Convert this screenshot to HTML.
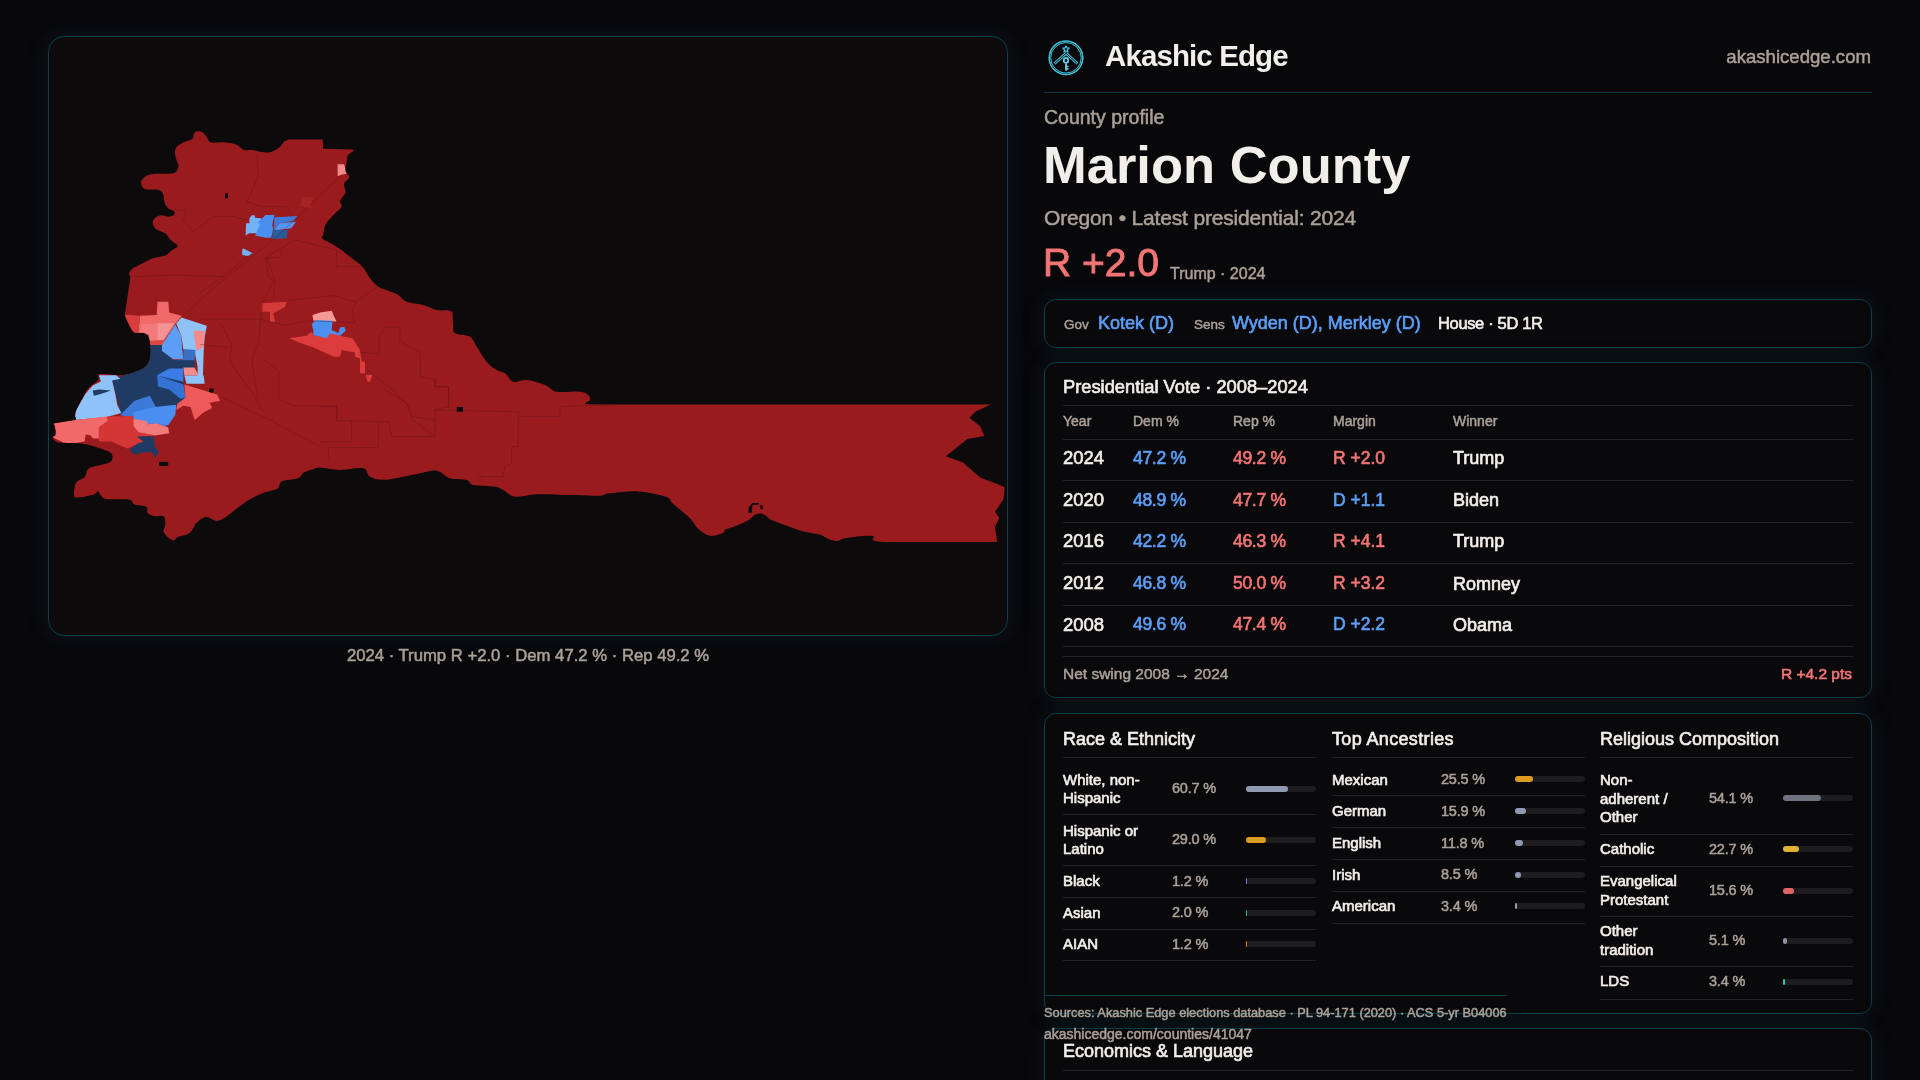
<!DOCTYPE html>
<html><head><meta charset="utf-8"><title>Marion County</title>
<style>
html,body{margin:0;padding:0;}
body{width:1920px;height:1080px;overflow:hidden;background:#08070a;position:relative;font-family:"Liberation Sans", sans-serif;}
.t{position:absolute;white-space:nowrap;will-change:transform;}
.r{position:absolute;}
.card{position:absolute;box-sizing:border-box;border:1px solid #0a3e4a;background:#0b0a0c;box-shadow:0 0 22px 2px rgba(25,120,135,0.13);}
.map{position:absolute;left:0;top:0;}
.logo{position:absolute;}
</style></head><body>
<div class="card" style="left:48px;top:36px;width:960px;height:600px;border-radius:16px;background:#0c0a0b;"></div>
<svg class="map" width="1020" height="700" viewBox="0 0 1020 700"><defs><clipPath id="cty"><path d="M197.2 131.3C198.7 131.1 201.2 131.6 202.8 132.6C204.4 133.6 205.5 135.9 206.9 137.5C208.3 139.1 208.1 141.6 211.1 142.4C214.1 143.2 220.8 142.1 225.0 142.4C229.2 142.7 232.9 143.1 236.1 144.4C239.3 145.7 241.7 149.1 244.3 150.0C247.0 150.9 248.1 149.6 252.0 150.0C255.9 150.4 263.1 153.0 267.6 152.6C272.2 152.2 275.7 149.6 279.3 147.4C282.9 145.2 281.8 140.7 289.0 139.4L322.7 139.4L323.1 148.7L352.5 149.4C356.6 150.5 349.0 153.1 348.0 155.2C347.0 157.2 347.1 159.1 346.7 161.7C346.3 164.3 345.0 168.2 345.4 170.8C345.8 173.4 349.5 175.2 349.3 177.3C349.1 179.5 344.8 181.1 344.1 183.7C343.5 186.3 346.0 190.0 345.4 192.8C344.8 195.6 340.8 198.2 340.2 200.6C339.6 203.0 342.4 204.9 341.5 207.1C340.6 209.3 337.6 210.8 335.0 213.6C332.4 216.4 327.8 220.4 325.9 223.9C323.9 227.4 323.9 231.9 323.3 234.3C322.7 236.7 320.7 236.7 322.0 238.2C323.3 239.7 327.9 241.4 331.1 243.4C334.4 245.4 338.5 247.8 341.5 249.9C344.5 252.1 346.3 253.9 349.3 256.3C352.3 258.7 357.0 261.8 359.6 264.1C362.2 266.4 363.3 267.6 365.0 270.0C366.7 272.4 367.8 275.5 370.0 278.3C372.2 281.1 374.4 284.3 378.3 286.7C382.2 289.1 390.0 291.1 393.3 292.5C396.6 293.9 396.1 293.5 398.3 295.0C400.5 296.5 402.5 300.0 406.7 301.7C410.9 303.4 418.3 303.6 423.3 305.0C428.3 306.4 431.8 308.8 436.7 310.0C441.6 311.2 449.7 308.9 452.5 312.5L453.3 331.7C456.2 335.7 466.1 334.2 470.0 336.7C473.9 339.2 473.9 342.5 476.7 346.7C479.5 350.9 483.4 357.8 486.7 361.7C490.0 365.6 493.6 368.1 496.7 370.0C499.8 371.9 502.2 371.4 505.0 373.3C507.8 375.2 509.7 380.6 513.3 381.7C516.9 382.8 521.4 379.4 526.7 380.0C532.0 380.6 540.0 383.1 545.0 385.0C550.0 386.9 550.9 390.6 556.7 391.7C562.5 392.8 574.7 391.1 580.0 391.7C585.3 392.2 586.6 393.6 588.3 395.0C590.0 396.4 590.3 398.5 590.0 400.0C589.7 401.5 581.7 403.4 586.7 404.2L620.0 404.5L990.8 404.5L975.8 411.4L969.4 417.8L980.1 426.3L984.4 435.9L967.3 439.1L945.9 456.2L963.0 462.6L980.1 477.5L997.2 484.0L1004.7 487.2L1003.6 498.9L995.0 511.7L999.3 518.1L995.0 526.7L997.2 542.0L884.0 542.0C863.2 541.0 878.6 536.5 872.3 535.8C866.0 535.1 852.2 537.0 846.3 537.9C840.4 538.8 839.9 540.8 836.9 541.0C833.9 541.2 831.3 540.0 828.5 539.0C825.7 538.0 824.2 536.0 820.2 534.8C816.2 533.6 808.9 532.8 804.6 531.7C800.3 530.7 798.7 530.1 794.2 528.5C789.7 526.9 781.5 523.8 777.5 522.3C773.5 520.8 772.6 520.6 770.2 519.2C767.8 517.8 765.3 514.8 762.9 514.0C760.5 513.2 758.0 513.5 755.6 514.5C753.2 515.5 751.4 518.4 748.3 520.2C745.2 522.0 740.7 523.8 736.9 525.4C733.1 527.0 727.7 528.4 725.4 529.6C723.1 530.8 725.9 531.7 723.3 532.7C720.7 533.7 714.0 536.4 709.8 535.8C705.6 535.1 701.6 531.8 698.2 528.8C694.9 525.8 694.0 522.4 689.7 518.1C685.4 513.8 676.5 506.8 672.6 503.2C668.7 499.6 671.9 498.8 666.2 496.8C660.5 494.8 648.0 491.9 638.4 491.4C628.8 490.9 614.9 492.9 608.5 493.6C602.1 494.3 606.4 495.5 600.0 495.7C593.6 495.9 580.5 495.2 570.0 495.0C559.5 494.8 545.9 493.9 536.7 494.2C527.5 494.5 520.6 497.4 515.0 496.7C509.4 496.0 506.6 491.7 503.3 490.0C500.0 488.3 500.0 487.5 495.0 486.7C490.0 485.9 478.0 486.1 473.3 485.0C468.6 483.9 470.6 481.1 466.7 480.0C462.8 478.9 455.0 479.8 450.0 478.3C445.0 476.8 441.7 471.6 436.7 470.8C431.7 470.0 428.3 471.8 420.0 473.3C411.7 474.8 395.0 479.1 386.7 479.7C378.4 480.3 373.9 478.6 370.0 476.7C366.1 474.8 368.3 469.4 363.3 468.3C358.3 467.2 347.2 470.1 340.0 470.0C332.8 469.9 324.6 467.6 320.0 467.5C315.4 467.4 315.2 468.8 312.5 469.6C309.8 470.4 306.2 471.1 303.8 472.5C301.4 473.9 301.5 476.8 297.9 478.3C294.2 479.8 285.3 479.6 281.9 481.3C278.5 483.0 280.7 486.6 277.5 488.5C274.3 490.4 267.8 490.9 262.9 492.9C258.0 494.8 252.4 497.8 248.3 500.2C244.2 502.6 242.9 504.1 238.1 507.5C233.2 510.9 224.5 519.0 219.2 520.6C213.8 522.2 209.9 516.5 206.0 517.0C202.1 517.5 197.7 521.9 195.8 523.5C193.9 525.1 195.6 524.8 194.4 526.5C193.2 528.2 191.2 532.1 188.5 533.8C185.8 535.5 181.0 535.6 178.3 536.7C175.6 537.8 174.9 541.0 172.5 540.3C170.1 539.6 165.0 534.8 163.8 532.3C162.6 529.8 165.2 527.7 165.2 525.0C165.2 522.3 165.5 517.7 163.8 516.2C162.1 514.7 157.7 516.7 155.0 516.2C152.3 515.7 149.1 514.9 147.7 513.3C146.2 511.7 148.5 508.2 146.3 506.8C144.1 505.4 137.5 505.8 134.6 504.6C131.7 503.4 133.7 500.5 128.8 499.5C123.9 498.5 110.5 500.1 105.4 498.8C100.3 497.5 100.0 492.2 98.1 491.5C96.2 490.8 96.9 493.4 93.8 494.4C90.7 495.4 82.5 497.1 79.2 497.3C75.9 497.5 74.6 498.2 74.1 495.8C73.6 493.4 74.4 485.9 76.2 482.7C78.0 479.5 82.8 479.3 85.0 476.9C87.2 474.5 85.3 470.5 89.4 468.1C93.5 465.7 106.2 464.7 109.8 462.3C113.4 459.9 113.2 455.9 111.3 453.5C109.3 451.1 103.4 449.4 98.1 447.7C92.8 446.0 85.8 444.1 79.2 443.3C72.7 442.5 63.2 443.6 58.8 442.6C54.4 441.6 53.4 438.8 52.9 437.5C52.4 436.2 55.5 436.6 55.8 434.6C56.0 432.7 54.5 427.7 54.4 425.8C54.3 423.9 51.6 424.3 55.0 423.3L75.0 420.0C78.3 418.3 73.6 417.2 75.0 413.3C76.4 409.4 81.1 400.9 83.3 396.7C85.5 392.5 85.8 391.1 88.3 388.3C90.8 385.5 96.3 382.4 98.3 380.0C100.2 377.6 95.8 375.0 100.0 374.2C104.2 373.4 116.1 376.0 123.3 375.0C130.5 374.0 138.9 371.1 143.3 368.3C147.8 365.5 148.9 362.7 150.0 358.3C151.1 353.9 150.8 345.9 150.0 341.7C149.2 337.5 147.8 335.0 145.0 333.3C142.2 331.6 136.6 334.6 133.3 331.7C130.0 328.8 126.4 318.9 125.0 315.8L125.0 313.3L130.0 280.0C130.7 273.4 128.6 275.6 129.2 273.6C129.8 271.6 130.8 270.0 133.3 268.1C135.8 266.2 141.2 264.1 144.4 262.5C147.7 260.9 149.3 259.4 152.8 258.3C156.3 257.2 162.1 257.0 165.3 255.6C168.5 254.2 170.1 251.6 172.2 250.0C174.3 248.4 178.0 247.4 177.8 245.8C177.6 244.2 172.9 242.4 170.8 240.3C168.7 238.2 167.7 235.2 165.3 233.3C162.9 231.5 158.3 230.8 156.2 229.2C154.2 227.6 153.0 225.4 152.8 223.6C152.6 221.8 153.5 219.5 154.9 218.1C156.3 216.7 158.7 215.5 161.1 215.3C163.5 215.1 167.2 216.8 169.4 216.7C171.6 216.6 173.6 215.5 174.3 214.6C175.0 213.7 174.6 212.1 173.6 211.1C172.6 210.1 169.6 209.7 168.1 208.3C166.6 206.9 165.4 205.1 164.6 202.8C163.8 200.5 164.0 196.5 163.2 194.4C162.4 192.3 161.4 191.1 159.7 190.3C158.0 189.5 155.4 189.8 152.8 189.6C150.2 189.4 146.4 189.9 144.4 188.9C142.4 187.9 141.2 185.0 141.0 183.3C140.8 181.6 141.4 180.0 143.1 178.5C144.8 177.0 146.8 175.1 151.4 174.3C156.0 173.5 166.6 174.1 170.8 173.6C175.0 173.1 175.1 172.9 176.4 171.5C177.7 170.1 178.5 167.3 178.5 165.3C178.5 163.3 177.0 161.8 176.4 159.7C175.8 157.6 175.0 154.9 175.0 152.8C175.0 150.7 175.0 148.9 176.4 147.2C177.8 145.5 180.6 143.8 183.3 142.4C186.0 141.0 190.7 140.3 192.4 138.9C194.1 137.5 192.9 135.3 193.8 134.0C194.6 132.7 195.7 131.5 197.2 131.3Z"/></clipPath></defs><path d="M197.2 131.3C198.7 131.1 201.2 131.6 202.8 132.6C204.4 133.6 205.5 135.9 206.9 137.5C208.3 139.1 208.1 141.6 211.1 142.4C214.1 143.2 220.8 142.1 225.0 142.4C229.2 142.7 232.9 143.1 236.1 144.4C239.3 145.7 241.7 149.1 244.3 150.0C247.0 150.9 248.1 149.6 252.0 150.0C255.9 150.4 263.1 153.0 267.6 152.6C272.2 152.2 275.7 149.6 279.3 147.4C282.9 145.2 281.8 140.7 289.0 139.4L322.7 139.4L323.1 148.7L352.5 149.4C356.6 150.5 349.0 153.1 348.0 155.2C347.0 157.2 347.1 159.1 346.7 161.7C346.3 164.3 345.0 168.2 345.4 170.8C345.8 173.4 349.5 175.2 349.3 177.3C349.1 179.5 344.8 181.1 344.1 183.7C343.5 186.3 346.0 190.0 345.4 192.8C344.8 195.6 340.8 198.2 340.2 200.6C339.6 203.0 342.4 204.9 341.5 207.1C340.6 209.3 337.6 210.8 335.0 213.6C332.4 216.4 327.8 220.4 325.9 223.9C323.9 227.4 323.9 231.9 323.3 234.3C322.7 236.7 320.7 236.7 322.0 238.2C323.3 239.7 327.9 241.4 331.1 243.4C334.4 245.4 338.5 247.8 341.5 249.9C344.5 252.1 346.3 253.9 349.3 256.3C352.3 258.7 357.0 261.8 359.6 264.1C362.2 266.4 363.3 267.6 365.0 270.0C366.7 272.4 367.8 275.5 370.0 278.3C372.2 281.1 374.4 284.3 378.3 286.7C382.2 289.1 390.0 291.1 393.3 292.5C396.6 293.9 396.1 293.5 398.3 295.0C400.5 296.5 402.5 300.0 406.7 301.7C410.9 303.4 418.3 303.6 423.3 305.0C428.3 306.4 431.8 308.8 436.7 310.0C441.6 311.2 449.7 308.9 452.5 312.5L453.3 331.7C456.2 335.7 466.1 334.2 470.0 336.7C473.9 339.2 473.9 342.5 476.7 346.7C479.5 350.9 483.4 357.8 486.7 361.7C490.0 365.6 493.6 368.1 496.7 370.0C499.8 371.9 502.2 371.4 505.0 373.3C507.8 375.2 509.7 380.6 513.3 381.7C516.9 382.8 521.4 379.4 526.7 380.0C532.0 380.6 540.0 383.1 545.0 385.0C550.0 386.9 550.9 390.6 556.7 391.7C562.5 392.8 574.7 391.1 580.0 391.7C585.3 392.2 586.6 393.6 588.3 395.0C590.0 396.4 590.3 398.5 590.0 400.0C589.7 401.5 581.7 403.4 586.7 404.2L620.0 404.5L990.8 404.5L975.8 411.4L969.4 417.8L980.1 426.3L984.4 435.9L967.3 439.1L945.9 456.2L963.0 462.6L980.1 477.5L997.2 484.0L1004.7 487.2L1003.6 498.9L995.0 511.7L999.3 518.1L995.0 526.7L997.2 542.0L884.0 542.0C863.2 541.0 878.6 536.5 872.3 535.8C866.0 535.1 852.2 537.0 846.3 537.9C840.4 538.8 839.9 540.8 836.9 541.0C833.9 541.2 831.3 540.0 828.5 539.0C825.7 538.0 824.2 536.0 820.2 534.8C816.2 533.6 808.9 532.8 804.6 531.7C800.3 530.7 798.7 530.1 794.2 528.5C789.7 526.9 781.5 523.8 777.5 522.3C773.5 520.8 772.6 520.6 770.2 519.2C767.8 517.8 765.3 514.8 762.9 514.0C760.5 513.2 758.0 513.5 755.6 514.5C753.2 515.5 751.4 518.4 748.3 520.2C745.2 522.0 740.7 523.8 736.9 525.4C733.1 527.0 727.7 528.4 725.4 529.6C723.1 530.8 725.9 531.7 723.3 532.7C720.7 533.7 714.0 536.4 709.8 535.8C705.6 535.1 701.6 531.8 698.2 528.8C694.9 525.8 694.0 522.4 689.7 518.1C685.4 513.8 676.5 506.8 672.6 503.2C668.7 499.6 671.9 498.8 666.2 496.8C660.5 494.8 648.0 491.9 638.4 491.4C628.8 490.9 614.9 492.9 608.5 493.6C602.1 494.3 606.4 495.5 600.0 495.7C593.6 495.9 580.5 495.2 570.0 495.0C559.5 494.8 545.9 493.9 536.7 494.2C527.5 494.5 520.6 497.4 515.0 496.7C509.4 496.0 506.6 491.7 503.3 490.0C500.0 488.3 500.0 487.5 495.0 486.7C490.0 485.9 478.0 486.1 473.3 485.0C468.6 483.9 470.6 481.1 466.7 480.0C462.8 478.9 455.0 479.8 450.0 478.3C445.0 476.8 441.7 471.6 436.7 470.8C431.7 470.0 428.3 471.8 420.0 473.3C411.7 474.8 395.0 479.1 386.7 479.7C378.4 480.3 373.9 478.6 370.0 476.7C366.1 474.8 368.3 469.4 363.3 468.3C358.3 467.2 347.2 470.1 340.0 470.0C332.8 469.9 324.6 467.6 320.0 467.5C315.4 467.4 315.2 468.8 312.5 469.6C309.8 470.4 306.2 471.1 303.8 472.5C301.4 473.9 301.5 476.8 297.9 478.3C294.2 479.8 285.3 479.6 281.9 481.3C278.5 483.0 280.7 486.6 277.5 488.5C274.3 490.4 267.8 490.9 262.9 492.9C258.0 494.8 252.4 497.8 248.3 500.2C244.2 502.6 242.9 504.1 238.1 507.5C233.2 510.9 224.5 519.0 219.2 520.6C213.8 522.2 209.9 516.5 206.0 517.0C202.1 517.5 197.7 521.9 195.8 523.5C193.9 525.1 195.6 524.8 194.4 526.5C193.2 528.2 191.2 532.1 188.5 533.8C185.8 535.5 181.0 535.6 178.3 536.7C175.6 537.8 174.9 541.0 172.5 540.3C170.1 539.6 165.0 534.8 163.8 532.3C162.6 529.8 165.2 527.7 165.2 525.0C165.2 522.3 165.5 517.7 163.8 516.2C162.1 514.7 157.7 516.7 155.0 516.2C152.3 515.7 149.1 514.9 147.7 513.3C146.2 511.7 148.5 508.2 146.3 506.8C144.1 505.4 137.5 505.8 134.6 504.6C131.7 503.4 133.7 500.5 128.8 499.5C123.9 498.5 110.5 500.1 105.4 498.8C100.3 497.5 100.0 492.2 98.1 491.5C96.2 490.8 96.9 493.4 93.8 494.4C90.7 495.4 82.5 497.1 79.2 497.3C75.9 497.5 74.6 498.2 74.1 495.8C73.6 493.4 74.4 485.9 76.2 482.7C78.0 479.5 82.8 479.3 85.0 476.9C87.2 474.5 85.3 470.5 89.4 468.1C93.5 465.7 106.2 464.7 109.8 462.3C113.4 459.9 113.2 455.9 111.3 453.5C109.3 451.1 103.4 449.4 98.1 447.7C92.8 446.0 85.8 444.1 79.2 443.3C72.7 442.5 63.2 443.6 58.8 442.6C54.4 441.6 53.4 438.8 52.9 437.5C52.4 436.2 55.5 436.6 55.8 434.6C56.0 432.7 54.5 427.7 54.4 425.8C54.3 423.9 51.6 424.3 55.0 423.3L75.0 420.0C78.3 418.3 73.6 417.2 75.0 413.3C76.4 409.4 81.1 400.9 83.3 396.7C85.5 392.5 85.8 391.1 88.3 388.3C90.8 385.5 96.3 382.4 98.3 380.0C100.2 377.6 95.8 375.0 100.0 374.2C104.2 373.4 116.1 376.0 123.3 375.0C130.5 374.0 138.9 371.1 143.3 368.3C147.8 365.5 148.9 362.7 150.0 358.3C151.1 353.9 150.8 345.9 150.0 341.7C149.2 337.5 147.8 335.0 145.0 333.3C142.2 331.6 136.6 334.6 133.3 331.7C130.0 328.8 126.4 318.9 125.0 315.8L125.0 313.3L130.0 280.0C130.7 273.4 128.6 275.6 129.2 273.6C129.8 271.6 130.8 270.0 133.3 268.1C135.8 266.2 141.2 264.1 144.4 262.5C147.7 260.9 149.3 259.4 152.8 258.3C156.3 257.2 162.1 257.0 165.3 255.6C168.5 254.2 170.1 251.6 172.2 250.0C174.3 248.4 178.0 247.4 177.8 245.8C177.6 244.2 172.9 242.4 170.8 240.3C168.7 238.2 167.7 235.2 165.3 233.3C162.9 231.5 158.3 230.8 156.2 229.2C154.2 227.6 153.0 225.4 152.8 223.6C152.6 221.8 153.5 219.5 154.9 218.1C156.3 216.7 158.7 215.5 161.1 215.3C163.5 215.1 167.2 216.8 169.4 216.7C171.6 216.6 173.6 215.5 174.3 214.6C175.0 213.7 174.6 212.1 173.6 211.1C172.6 210.1 169.6 209.7 168.1 208.3C166.6 206.9 165.4 205.1 164.6 202.8C163.8 200.5 164.0 196.5 163.2 194.4C162.4 192.3 161.4 191.1 159.7 190.3C158.0 189.5 155.4 189.8 152.8 189.6C150.2 189.4 146.4 189.9 144.4 188.9C142.4 187.9 141.2 185.0 141.0 183.3C140.8 181.6 141.4 180.0 143.1 178.5C144.8 177.0 146.8 175.1 151.4 174.3C156.0 173.5 166.6 174.1 170.8 173.6C175.0 173.1 175.1 172.9 176.4 171.5C177.7 170.1 178.5 167.3 178.5 165.3C178.5 163.3 177.0 161.8 176.4 159.7C175.8 157.6 175.0 154.9 175.0 152.8C175.0 150.7 175.0 148.9 176.4 147.2C177.8 145.5 180.6 143.8 183.3 142.4C186.0 141.0 190.7 140.3 192.4 138.9C194.1 137.5 192.9 135.3 193.8 134.0C194.6 132.7 195.7 131.5 197.2 131.3Z" fill="#991b1e"/><g clip-path="url(#cty)"><polygon points="261.7,303.3 286.7,301.7 285.0,306.7 273.3,313.3 275.0,321.7 270.0,321.7 270.0,311.7 261.7,311.7" fill="#d63a3a"/><polygon points="302.6,196.7 313.0,198.0 310.4,208.4 300.0,205.8" fill="#a82323"/><polygon points="337.6,164.3 344.1,164.3 346.7,173.4 337.6,176.0" fill="#f08a8a"/><polygon points="140.0,315.8 156.7,315.0 157.5,301.7 168.3,301.7 169.2,312.5 181.7,315.8 175.0,324.2 163.3,341.7 150.0,344.2 149.2,335.0 138.3,332.5" fill="#f06a6a"/><polygon points="124.0,314.5 140.0,315.8 138.3,333.0 133.3,333.0" fill="#d83c3c"/><polygon points="141.7,324.2 157.5,323.3 157.5,340.0 150.0,341.7 148.3,334.2 140.0,332.0" fill="#f27a7a"/><polygon points="157.5,323.3 174.2,323.3 163.3,340.0 157.5,340.0" fill="#f59494"/><polygon points="150.0,340.8 165.0,340.0 163.3,344.8 150.0,345.5" fill="#e04545"/><polygon points="149.7,345.0 162.0,345.0 173.2,360.3 194.5,360.3 194.5,367.4 183.3,368.4 183.3,383.7 185.4,400.0 177.3,404.8 167.1,426.2 133.5,419.1 121.3,415.0 112.1,380.4 127.4,373.2 143.3,368.3 150.0,358.3" fill="#1f3b64"/><polygon points="162.0,345.0 175.2,324.6 181.3,335.8 182.3,351.1 183.3,359.3 173.2,359.3 162.0,351.1" fill="#5c9ef5"/><polygon points="176.2,323.6 181.3,317.5 206.8,325.7 204.7,336.9 203.7,351.1 202.7,381.7 197.6,381.7 197.6,366.4 194.5,351.1 187.4,353.2 183.3,349.1 181.3,335.8" fill="#8ec2f8"/><polygon points="193.5,330.7 204.7,330.7 203.7,347.0 196.6,351.1 194.5,338.9" fill="#f28b8b"/><polygon points="183.3,349.1 195.6,350.1 194.5,361.3 173.2,361.3 183.3,359.3" fill="#3a70c4"/><polygon points="174.2,360.3 194.5,360.3 194.5,367.4 174.2,367.4" fill="#1f3b64"/><polygon points="183.3,367.4 194.5,367.4 198.6,375.6 184.4,375.6" fill="#f28b8b"/><polygon points="184.4,375.6 203.7,375.6 204.7,383.7 186.4,383.7" fill="#8ec2f8"/><polygon points="169.1,368.4 183.3,368.4 183.3,381.7 156.9,375.6" fill="#3c7ce6"/><polygon points="157.0,375.3 183.4,384.4 185.5,397.7 180.4,398.7 169.2,389.5 158.0,386.5" fill="#3473d3"/><polygon points="98.9,375.3 116.2,375.3 120.3,378.8 112.1,380.4 115.2,393.6 117.2,404.8 121.3,413.0 107.0,417.0 74.4,420.1 76.5,408.9 85.7,393.6 92.8,385.5 100.9,381.4" fill="#8ec2f8"/><polygon points="92.8,390.6 98.9,389.5 111.1,390.6 98.9,394.6 93.8,395.7" fill="#1f3b64"/><polygon points="120.3,415.0 134.5,400.7 149.8,395.7 155.9,406.9 167.1,426.2 157.0,425.2 146.8,421.1 133.5,419.1" fill="#3d7ad8"/><polygon points="133.5,412.0 154.9,406.9 176.3,404.8 175.3,415.0 168.2,425.2 155.9,423.2 146.8,424.2 133.5,419.1" fill="#4a8ef2"/><polygon points="184.4,384.4 217.1,394.6 220.1,400.7 209.9,402.8 212.0,407.9 202.8,413.0 194.6,420.1 190.6,406.9 183.4,405.8 176.3,409.9 177.3,403.8 185.5,397.7" fill="#ee5a5a"/><polygon points="54.1,423.2 75.5,420.1 107.0,416.5 108.1,421.1 98.9,427.2 98.9,438.4 92.8,438.4 90.7,435.4 85.7,434.4 84.6,441.5 72.4,443.5 63.2,442.5 53.1,437.4 56.1,431.3" fill="#f06a6a"/><polygon points="107.0,416.5 133.5,416.0 133.5,426.2 138.6,432.3 154.9,435.4 139.6,436.4 143.7,441.5 136.6,444.5 127.4,448.6 111.1,441.5 98.9,441.5 98.9,427.2 108.1,421.1" fill="#d43636"/><polygon points="133.5,419.1 146.8,421.1 147.8,424.2 155.9,423.2 168.2,427.2 169.2,433.3 154.9,435.4 138.6,432.3 133.5,426.2" fill="#f27a7a"/><polygon points="136.6,436.4 153.9,436.4 154.9,446.6 159.0,451.7 154.9,457.8 151.9,451.7 141.7,452.7 134.5,454.7 129.5,449.6 137.6,443.5 143.7,441.5" fill="#1f3b64"/><polygon points="289.2,338.3 306.7,335.8 311.7,331.7 313.3,335.0 326.7,337.5 330.0,331.7 340.0,335.8 352.5,338.3 360.0,350.0 361.7,361.7 365.0,361.7 365.0,373.3 360.0,373.3 360.0,358.3 355.0,356.7 355.0,352.5 341.7,350.0 340.0,356.7 334.2,356.7 313.3,347.5 299.2,342.5" fill="#dc3c3c"/><polygon points="312.5,315.0 320.0,312.5 331.7,310.8 334.2,316.7 336.7,321.7 313.3,320.8" fill="#f59898"/><polygon points="311.7,324.2 315.8,320.0 332.5,320.8 331.7,330.0 338.3,333.3 340.0,327.5 344.2,326.7 345.8,330.8 340.0,335.8 330.0,333.3 326.7,338.3 313.3,335.0 313.3,330.0" fill="#4a90f0"/><polygon points="365.8,375.0 372.5,375.0 370.0,381.7 367.5,381.7" fill="#dc3c3c"/><polygon points="252.2,215.0 255.0,215.6 255.0,217.8 261.1,218.3 260.0,233.3 249.4,233.3 245.6,235.6 246.1,223.3 249.4,223.3 249.4,218.3" fill="#72b2f8"/><polygon points="257.8,222.2 265.6,215.0 274.4,215.0 272.2,225.0 273.3,228.9 271.1,237.8 265.6,237.8 255.0,235.6 260.0,224.4" fill="#4a8ef0"/><polygon points="274.4,217.2 285.0,216.7 297.2,216.1 293.3,221.1 280.0,223.3 273.9,228.9" fill="#3f7ad8"/><polygon points="280.0,223.3 296.1,221.7 291.1,228.3 278.3,230.0 273.9,229.4" fill="#5296f2"/><polygon points="272.8,230.0 287.8,230.0 286.7,238.3 272.2,238.9" fill="#2b5a9c"/><polygon points="242.8,248.3 252.8,253.3 248.3,256.1 242.2,255.0 242.2,251.1" fill="#72b2f8"/><polyline points="253.5,251.6 223.6,276.0 200.0,292.5" fill="none" stroke="#5e1114" stroke-opacity="0.5" stroke-width="0.7"/><polyline points="266.1,257.9 280.3,257.1 281.8,250.0" fill="none" stroke="#5e1114" stroke-opacity="0.5" stroke-width="0.7"/><polyline points="266.1,257.9 267.7,276.8 274.0,279.9 263.0,302.0 261.4,313.0 258.2,344.4 251.9,360.2 256.7,391.6 258.2,401.0" fill="none" stroke="#5e1114" stroke-opacity="0.5" stroke-width="0.7"/><polyline points="200.0,319.2 259.8,319.2 285.0,325.5 307.0,320.8 354.2,322.4 359.0,327.1" fill="none" stroke="#5e1114" stroke-opacity="0.5" stroke-width="0.7"/><polyline points="288.1,300.4 333.8,295.6 355.8,301.9 352.7,309.8 354.2,322.4" fill="none" stroke="#5e1114" stroke-opacity="0.5" stroke-width="0.7"/><polyline points="355.8,301.9 377.8,286.2" fill="none" stroke="#5e1114" stroke-opacity="0.5" stroke-width="0.7"/><polyline points="379.4,335.0 385.7,327.1 399.9,327.1 399.9,341.3 410.9,347.6 420.3,352.3 420.3,375.9 436.1,380.6 434.5,386.9 448.7,386.9 448.7,407.4" fill="none" stroke="#5e1114" stroke-opacity="0.5" stroke-width="0.7"/><polyline points="360.5,352.3 379.4,353.9 379.4,335.0" fill="none" stroke="#5e1114" stroke-opacity="0.5" stroke-width="0.7"/><polyline points="366.8,369.6 388.9,386.9 406.2,402.7 412.5,420.0 435.0,436.7" fill="none" stroke="#5e1114" stroke-opacity="0.5" stroke-width="0.7"/><polyline points="220.5,322.4 231.5,344.4 229.9,360.2 236.2,371.2 251.9,391.6 263.0,412.1" fill="none" stroke="#5e1114" stroke-opacity="0.5" stroke-width="0.7"/><polyline points="200.0,344.4 228.3,347.6" fill="none" stroke="#5e1114" stroke-opacity="0.5" stroke-width="0.7"/><polyline points="275.5,397.9 294.4,405.8 336.9,405.8 336.9,420.0" fill="none" stroke="#5e1114" stroke-opacity="0.5" stroke-width="0.7"/><polyline points="264.5,360.2 278.7,371.2 278.7,397.9" fill="none" stroke="#5e1114" stroke-opacity="0.5" stroke-width="0.7"/><polyline points="256.7,152.5 258.3,176.7 246.7,201.7 261.7,206.7 286.7,206.7 291.7,215.0" fill="none" stroke="#5e1114" stroke-opacity="0.5" stroke-width="0.7"/><polyline points="170.0,210.0 186.7,210.0 183.3,220.0 193.3,231.7 213.3,216.7 233.3,216.7 248.3,220.0" fill="none" stroke="#5e1114" stroke-opacity="0.5" stroke-width="0.7"/><polyline points="130.0,276.7 175.0,275.0 223.3,276.7" fill="none" stroke="#5e1114" stroke-opacity="0.5" stroke-width="0.7"/><polyline points="266.7,256.7 295.0,240.0 336.7,250.0 336.7,266.7 361.7,266.7" fill="none" stroke="#5e1114" stroke-opacity="0.5" stroke-width="0.7"/><polyline points="266.7,256.7 275.0,280.0 273.3,300.0" fill="none" stroke="#5e1114" stroke-opacity="0.5" stroke-width="0.7"/><polyline points="343.3,173.3 276.7,236.7 225.0,278.3 200.0,300.0 185.0,315.0" fill="none" stroke="#5e1114" stroke-opacity="0.5" stroke-width="0.7"/><polyline points="320.0,406.7 336.7,406.7 336.7,420.8 389.2,421.7 391.7,436.7 435.0,436.7 435.0,410.0 518.3,411.7 518.3,446.7 511.7,446.7 511.7,463.3 505.0,466.7 503.3,476.7 480.0,476.7 480.0,481.7" fill="none" stroke="#5e1114" stroke-opacity="0.5" stroke-width="0.7"/><polyline points="351.7,421.7 351.7,441.7 320.0,441.7" fill="none" stroke="#5e1114" stroke-opacity="0.5" stroke-width="0.7"/><polyline points="378.3,421.7 378.3,447.5 328.3,447.5 328.3,458.3" fill="none" stroke="#5e1114" stroke-opacity="0.5" stroke-width="0.7"/><polyline points="518.3,416.7 560.0,416.7 560.0,406.7 620.0,404.5" fill="none" stroke="#5e1114" stroke-opacity="0.5" stroke-width="0.7"/><polyline points="435.0,386.7 448.3,386.7 448.3,406.7 435.0,410.0" fill="none" stroke="#5e1114" stroke-opacity="0.5" stroke-width="0.7"/><polyline points="383.3,388.3 406.7,403.3 413.3,416.7 435.0,420.0" fill="none" stroke="#5e1114" stroke-opacity="0.5" stroke-width="0.7"/><polyline points="435.0,380.0 435.0,386.7" fill="none" stroke="#5e1114" stroke-opacity="0.5" stroke-width="0.7"/><polyline points="220.0,396.7 270.0,420.0 320.0,446.7" fill="none" stroke="#5e1114" stroke-opacity="0.5" stroke-width="0.7"/></g><polygon points="748.6,507.5 752.2,503 759,503 759,504.6 752.5,504.9 751.8,512.7 748.3,512.7" fill="#0b0a0c"/><polygon points="759.6,505.2 762.9,505.6 762.5,509.4 760.6,509.1" fill="#0b0a0c"/><polygon points="225.0,193.3 228.0,193.3 228.0,198.3 225.0,198.3" fill="#0b0a0c"/><polygon points="456.7,407.0 463.0,407.0 463.0,411.7 456.7,411.7" fill="#0b0a0c"/><polygon points="159.0,461.9 168.2,461.9 168.2,466.0 159.0,466.0" fill="#0b0a0c"/><polygon points="210.0,388.0 214.0,389.0 213.0,393.0 209.0,392.0" fill="#0b0a0c"/></svg>
<div class="t" style="left:28px;width:1000px;text-align:center;top:648.36px;font-size:16.7px;line-height:16.7px;color:#aaa098;font-weight:400;-webkit-text-stroke:0.5px #aaa098;">2024 · Trump R +2.0 · Dem 47.2 % · Rep 49.2 %</div>
<svg class="logo" style="left:1048px;top:40px" width="36" height="36" viewBox="0 0 36 36">
<defs><filter id="gl" x="-30%" y="-30%" width="160%" height="160%"><feGaussianBlur stdDeviation="0.6" result="b"/><feMerge><feMergeNode in="b"/><feMergeNode in="SourceGraphic"/></feMerge></filter></defs>
<g fill="none" stroke="#42bfd8" filter="url(#gl)">
<circle cx="18" cy="17.8" r="16.8" stroke-width="1.2"/><circle cx="18" cy="17.8" r="15.3" stroke-width="0.8" opacity="0.85"/>
<path d="M18 13.2 L6.5 23.6 M18 13.2 L29.5 23.6" stroke-width="2.6" opacity="0.85"/>
<path d="M18 13.2 L6.5 23.6 M18 13.2 L29.5 23.6" stroke="#0b0a0c" stroke-width="0.9"/>
<circle cx="18" cy="20.4" r="2.3" stroke-width="1.5" stroke="#5cc9de"/>
<path d="M18 22.6 V30.6 M18 26.6 H20.3 M18 28.8 H20.3" stroke-width="1.5" stroke="#5cc9de"/>
<path d="M18.00 5.80 L18.88 8.09 L21.33 8.22 L19.43 9.76 L20.06 12.13 L18.00 10.80 L15.94 12.13 L16.57 9.76 L14.67 8.22 L17.12 8.09Z" stroke-width="1"/>
</g>
</svg>
<div class="t" style="left:1104.5px;top:41.43px;font-size:29.5px;line-height:29.5px;color:#f2eee9;font-weight:700;letter-spacing:-0.9px;">Akashic Edge</div>
<div class="t" style="left:1271px;width:600px;text-align:right;top:47.96px;font-size:18.6px;line-height:18.6px;color:#aaa098;font-weight:400;letter-spacing:0px;-webkit-text-stroke:0.5px #aaa098;">akashicedge.com</div>
<div class="r" style="left:1044px;top:92px;width:828px;height:1px;background:#0e3a44;"></div>
<div class="t" style="left:1044px;top:107.99px;font-size:19.5px;line-height:19.5px;color:#aaa098;font-weight:400;-webkit-text-stroke:0.5px #aaa098;">County profile</div>
<div class="t" style="left:1043px;top:139.16px;font-size:52.5px;line-height:52.5px;color:#f2eee9;font-weight:700;">Marion County</div>
<div class="t" style="left:1044px;top:207.12px;font-size:21px;line-height:21px;color:#aaa098;font-weight:400;letter-spacing:-0.17px;-webkit-text-stroke:0.5px #aaa098;">Oregon • Latest presidential: 2024</div>
<div class="t" style="left:1042.5px;top:242.79px;font-size:39px;line-height:39px;color:#f27474;font-weight:400;-webkit-text-stroke:0.9px #f27474;">R +2.0</div>
<div class="t" style="left:1170px;top:266.36px;font-size:16px;line-height:16px;color:#aaa098;font-weight:400;-webkit-text-stroke:0.5px #aaa098;">Trump · 2024</div>
<div class="card" style="left:1044px;top:299px;width:828px;height:49px;border-radius:12px;background:#09080a;"></div>
<div class="t" style="left:1063.5px;top:317.97px;font-size:13.5px;line-height:13.5px;color:#aaa098;font-weight:400;-webkit-text-stroke:0.5px #aaa098;">Gov</div>
<div class="t" style="left:1098px;top:314.16px;font-size:18px;line-height:18px;color:#5c9ef6;font-weight:400;-webkit-text-stroke:0.65px #5c9ef6;">Kotek (D)</div>
<div class="t" style="left:1193.5px;top:317.97px;font-size:13.5px;line-height:13.5px;color:#aaa098;font-weight:400;-webkit-text-stroke:0.5px #aaa098;">Sens</div>
<div class="t" style="left:1231.5px;top:314.16px;font-size:18px;line-height:18px;color:#5c9ef6;font-weight:400;-webkit-text-stroke:0.65px #5c9ef6;">Wyden (D), Merkley (D)</div>
<div class="t" style="left:1437.5px;top:315.43px;font-size:16.5px;line-height:16.5px;color:#f2eee9;font-weight:400;letter-spacing:-0.35px;-webkit-text-stroke:0.65px #f2eee9;">House · 5D 1R</div>
<div class="card" style="left:1044px;top:362px;width:828px;height:336px;border-radius:12px;background:#09080a;"></div>
<div class="t" style="left:1063px;top:378.41px;font-size:18.3px;line-height:18.3px;color:#f2eee9;font-weight:400;-webkit-text-stroke:0.65px #f2eee9;">Presidential Vote · 2008–2024</div>
<div class="r" style="left:1063px;top:405px;width:790px;height:1px;background:#232125;"></div>
<div class="t" style="left:1063px;top:413.85px;font-size:14px;line-height:14px;color:#aaa098;font-weight:400;-webkit-text-stroke:0.5px #aaa098;">Year</div>
<div class="t" style="left:1133px;top:413.85px;font-size:14px;line-height:14px;color:#aaa098;font-weight:400;-webkit-text-stroke:0.5px #aaa098;">Dem %</div>
<div class="t" style="left:1233px;top:413.85px;font-size:14px;line-height:14px;color:#aaa098;font-weight:400;-webkit-text-stroke:0.5px #aaa098;">Rep %</div>
<div class="t" style="left:1333px;top:413.85px;font-size:14px;line-height:14px;color:#aaa098;font-weight:400;-webkit-text-stroke:0.5px #aaa098;">Margin</div>
<div class="t" style="left:1453px;top:413.85px;font-size:14px;line-height:14px;color:#aaa098;font-weight:400;-webkit-text-stroke:0.5px #aaa098;">Winner</div>
<div class="r" style="left:1063px;top:439px;width:790px;height:1px;background:#232125;"></div>
<div class="t" style="left:1063px;top:449.04px;font-size:18.5px;line-height:18.5px;color:#f2eee9;font-weight:400;-webkit-text-stroke:0.65px #f2eee9;">2024</div>
<div class="t" style="left:1133px;top:449.89px;font-size:17.5px;line-height:17.5px;color:#5c9ef6;font-weight:400;letter-spacing:-0.3px;-webkit-text-stroke:0.65px #5c9ef6;">47.2 %</div>
<div class="t" style="left:1233px;top:449.89px;font-size:17.5px;line-height:17.5px;color:#f27474;font-weight:400;letter-spacing:-0.3px;-webkit-text-stroke:0.65px #f27474;">49.2 %</div>
<div class="t" style="left:1333px;top:449.89px;font-size:17.5px;line-height:17.5px;color:#f27474;font-weight:400;-webkit-text-stroke:0.65px #f27474;">R +2.0</div>
<div class="t" style="left:1453px;top:449.46px;font-size:18px;line-height:18px;color:#f2eee9;font-weight:400;-webkit-text-stroke:0.65px #f2eee9;">Trump</div>
<div class="r" style="left:1063px;top:480px;width:790px;height:1px;background:#232125;"></div>
<div class="t" style="left:1063px;top:491.04px;font-size:18.5px;line-height:18.5px;color:#f2eee9;font-weight:400;-webkit-text-stroke:0.65px #f2eee9;">2020</div>
<div class="t" style="left:1133px;top:491.89px;font-size:17.5px;line-height:17.5px;color:#5c9ef6;font-weight:400;letter-spacing:-0.3px;-webkit-text-stroke:0.65px #5c9ef6;">48.9 %</div>
<div class="t" style="left:1233px;top:491.89px;font-size:17.5px;line-height:17.5px;color:#f27474;font-weight:400;letter-spacing:-0.3px;-webkit-text-stroke:0.65px #f27474;">47.7 %</div>
<div class="t" style="left:1333px;top:491.89px;font-size:17.5px;line-height:17.5px;color:#5c9ef6;font-weight:400;-webkit-text-stroke:0.65px #5c9ef6;">D +1.1</div>
<div class="t" style="left:1453px;top:491.46px;font-size:18px;line-height:18px;color:#f2eee9;font-weight:400;-webkit-text-stroke:0.65px #f2eee9;">Biden</div>
<div class="r" style="left:1063px;top:522px;width:790px;height:1px;background:#232125;"></div>
<div class="t" style="left:1063px;top:531.84px;font-size:18.5px;line-height:18.5px;color:#f2eee9;font-weight:400;-webkit-text-stroke:0.65px #f2eee9;">2016</div>
<div class="t" style="left:1133px;top:532.69px;font-size:17.5px;line-height:17.5px;color:#5c9ef6;font-weight:400;letter-spacing:-0.3px;-webkit-text-stroke:0.65px #5c9ef6;">42.2 %</div>
<div class="t" style="left:1233px;top:532.69px;font-size:17.5px;line-height:17.5px;color:#f27474;font-weight:400;letter-spacing:-0.3px;-webkit-text-stroke:0.65px #f27474;">46.3 %</div>
<div class="t" style="left:1333px;top:532.69px;font-size:17.5px;line-height:17.5px;color:#f27474;font-weight:400;-webkit-text-stroke:0.65px #f27474;">R +4.1</div>
<div class="t" style="left:1453px;top:532.26px;font-size:18px;line-height:18px;color:#f2eee9;font-weight:400;-webkit-text-stroke:0.65px #f2eee9;">Trump</div>
<div class="r" style="left:1063px;top:563px;width:790px;height:1px;background:#232125;"></div>
<div class="t" style="left:1063px;top:574.34px;font-size:18.5px;line-height:18.5px;color:#f2eee9;font-weight:400;-webkit-text-stroke:0.65px #f2eee9;">2012</div>
<div class="t" style="left:1133px;top:575.19px;font-size:17.5px;line-height:17.5px;color:#5c9ef6;font-weight:400;letter-spacing:-0.3px;-webkit-text-stroke:0.65px #5c9ef6;">46.8 %</div>
<div class="t" style="left:1233px;top:575.19px;font-size:17.5px;line-height:17.5px;color:#f27474;font-weight:400;letter-spacing:-0.3px;-webkit-text-stroke:0.65px #f27474;">50.0 %</div>
<div class="t" style="left:1333px;top:575.19px;font-size:17.5px;line-height:17.5px;color:#f27474;font-weight:400;-webkit-text-stroke:0.65px #f27474;">R +3.2</div>
<div class="t" style="left:1453px;top:574.76px;font-size:18px;line-height:18px;color:#f2eee9;font-weight:400;-webkit-text-stroke:0.65px #f2eee9;">Romney</div>
<div class="r" style="left:1063px;top:605px;width:790px;height:1px;background:#232125;"></div>
<div class="t" style="left:1063px;top:615.54px;font-size:18.5px;line-height:18.5px;color:#f2eee9;font-weight:400;-webkit-text-stroke:0.65px #f2eee9;">2008</div>
<div class="t" style="left:1133px;top:616.39px;font-size:17.5px;line-height:17.5px;color:#5c9ef6;font-weight:400;letter-spacing:-0.3px;-webkit-text-stroke:0.65px #5c9ef6;">49.6 %</div>
<div class="t" style="left:1233px;top:616.39px;font-size:17.5px;line-height:17.5px;color:#f27474;font-weight:400;letter-spacing:-0.3px;-webkit-text-stroke:0.65px #f27474;">47.4 %</div>
<div class="t" style="left:1333px;top:616.39px;font-size:17.5px;line-height:17.5px;color:#5c9ef6;font-weight:400;-webkit-text-stroke:0.65px #5c9ef6;">D +2.2</div>
<div class="t" style="left:1453px;top:615.96px;font-size:18px;line-height:18px;color:#f2eee9;font-weight:400;-webkit-text-stroke:0.65px #f2eee9;">Obama</div>
<div class="r" style="left:1063px;top:646px;width:790px;height:1px;background:#232125;"></div>
<div class="r" style="left:1063px;top:656px;width:790px;height:1px;background:#232125;"></div>
<div class="t" style="left:1063px;top:666.48px;font-size:15.5px;line-height:15.5px;color:#aaa098;font-weight:400;-webkit-text-stroke:0.5px #aaa098;">Net swing 2008 → 2024</div>
<div class="t" style="left:1252px;width:600px;text-align:right;top:666.48px;font-size:15.5px;line-height:15.5px;color:#f27474;font-weight:400;-webkit-text-stroke:0.65px #f27474;">R +4.2 pts</div>
<div class="card" style="left:1044px;top:713px;width:828px;height:301px;border-radius:12px;background:#09080a;"></div>
<div class="t" style="left:1063px;top:729.76px;font-size:18px;line-height:18px;color:#f2eee9;font-weight:400;-webkit-text-stroke:0.65px #f2eee9;">Race &amp; Ethnicity</div>
<div class="r" style="left:1063px;top:757px;width:253px;height:1px;background:#232125;"></div>
<div class="t" style="left:1332px;top:729.76px;font-size:18px;line-height:18px;color:#f2eee9;font-weight:400;letter-spacing:0.35px;-webkit-text-stroke:0.65px #f2eee9;">Top Ancestries</div>
<div class="r" style="left:1332px;top:757px;width:253px;height:1px;background:#232125;"></div>
<div class="t" style="left:1600px;top:729.76px;font-size:18px;line-height:18px;color:#f2eee9;font-weight:400;-webkit-text-stroke:0.65px #f2eee9;">Religious Composition</div>
<div class="r" style="left:1600px;top:757px;width:253px;height:1px;background:#232125;"></div>
<div class="t" style="left:1063px;top:771.70px;font-size:15px;line-height:15px;color:#f2eee9;font-weight:400;-webkit-text-stroke:0.65px #f2eee9;">White, non-</div>
<div class="t" style="left:1063px;top:790.40px;font-size:15px;line-height:15px;color:#f2eee9;font-weight:400;-webkit-text-stroke:0.65px #f2eee9;">Hispanic</div>
<div class="t" style="left:1172px;top:780.93px;font-size:14.5px;line-height:14.5px;color:#aaa098;font-weight:400;letter-spacing:-0.2px;-webkit-text-stroke:0.5px #aaa098;">60.7 %</div>
<div class="r" style="left:1246px;top:786px;width:70px;height:6px;background:#1d1c1f;border-radius:3px;"></div>
<div class="r" style="left:1246px;top:786px;width:42.49px;height:6px;background:#8f9ab0;border-radius:3px;"></div>
<div class="r" style="left:1063px;top:814px;width:253px;height:1px;background:#232125;"></div>
<div class="t" style="left:1063px;top:822.80px;font-size:15px;line-height:15px;color:#f2eee9;font-weight:400;-webkit-text-stroke:0.65px #f2eee9;">Hispanic or</div>
<div class="t" style="left:1063px;top:841.40px;font-size:15px;line-height:15px;color:#f2eee9;font-weight:400;-webkit-text-stroke:0.65px #f2eee9;">Latino</div>
<div class="t" style="left:1172px;top:832.23px;font-size:14.5px;line-height:14.5px;color:#aaa098;font-weight:400;letter-spacing:-0.2px;-webkit-text-stroke:0.5px #aaa098;">29.0 %</div>
<div class="r" style="left:1246px;top:837px;width:70px;height:6px;background:#1d1c1f;border-radius:3px;"></div>
<div class="r" style="left:1246px;top:837px;width:20.299999999999997px;height:6px;background:#dc9c22;border-radius:3px;"></div>
<div class="r" style="left:1063px;top:865px;width:253px;height:1px;background:#232125;"></div>
<div class="t" style="left:1063px;top:873.10px;font-size:15px;line-height:15px;color:#f2eee9;font-weight:400;-webkit-text-stroke:0.65px #f2eee9;">Black</div>
<div class="t" style="left:1172px;top:873.53px;font-size:14.5px;line-height:14.5px;color:#aaa098;font-weight:400;letter-spacing:-0.2px;-webkit-text-stroke:0.5px #aaa098;">1.2 %</div>
<div class="r" style="left:1246px;top:878px;width:70px;height:6px;background:#1d1c1f;border-radius:3px;"></div>
<div class="r" style="left:1246px;top:878px;width:1.2px;height:6px;background:#8a6fe0;border-radius:3px;"></div>
<div class="r" style="left:1063px;top:897px;width:253px;height:1px;background:#232125;"></div>
<div class="t" style="left:1063px;top:904.80px;font-size:15px;line-height:15px;color:#f2eee9;font-weight:400;-webkit-text-stroke:0.65px #f2eee9;">Asian</div>
<div class="t" style="left:1172px;top:905.23px;font-size:14.5px;line-height:14.5px;color:#aaa098;font-weight:400;letter-spacing:-0.2px;-webkit-text-stroke:0.5px #aaa098;">2.0 %</div>
<div class="r" style="left:1246px;top:910px;width:70px;height:6px;background:#1d1c1f;border-radius:3px;"></div>
<div class="r" style="left:1246px;top:910px;width:1.4000000000000001px;height:6px;background:#38b58a;border-radius:3px;"></div>
<div class="r" style="left:1063px;top:929px;width:253px;height:1px;background:#232125;"></div>
<div class="t" style="left:1063px;top:936.10px;font-size:15px;line-height:15px;color:#f2eee9;font-weight:400;-webkit-text-stroke:0.65px #f2eee9;">AIAN</div>
<div class="t" style="left:1172px;top:936.53px;font-size:14.5px;line-height:14.5px;color:#aaa098;font-weight:400;letter-spacing:-0.2px;-webkit-text-stroke:0.5px #aaa098;">1.2 %</div>
<div class="r" style="left:1246px;top:941px;width:70px;height:6px;background:#1d1c1f;border-radius:3px;"></div>
<div class="r" style="left:1246px;top:941px;width:1.2px;height:6px;background:#e0802a;border-radius:3px;"></div>
<div class="r" style="left:1063px;top:960px;width:253px;height:1px;background:#232125;"></div>
<div class="t" style="left:1332px;top:771.70px;font-size:15px;line-height:15px;color:#f2eee9;font-weight:400;-webkit-text-stroke:0.65px #f2eee9;">Mexican</div>
<div class="t" style="left:1441px;top:772.13px;font-size:14.5px;line-height:14.5px;color:#aaa098;font-weight:400;letter-spacing:-0.2px;-webkit-text-stroke:0.5px #aaa098;">25.5 %</div>
<div class="r" style="left:1515px;top:776px;width:70px;height:6px;background:#1d1c1f;border-radius:3px;"></div>
<div class="r" style="left:1515px;top:776px;width:17.85px;height:6px;background:#dc9c22;border-radius:3px;"></div>
<div class="r" style="left:1332px;top:795px;width:253px;height:1px;background:#232125;"></div>
<div class="t" style="left:1332px;top:803.40px;font-size:15px;line-height:15px;color:#f2eee9;font-weight:400;-webkit-text-stroke:0.65px #f2eee9;">German</div>
<div class="t" style="left:1441px;top:803.83px;font-size:14.5px;line-height:14.5px;color:#aaa098;font-weight:400;letter-spacing:-0.2px;-webkit-text-stroke:0.5px #aaa098;">15.9 %</div>
<div class="r" style="left:1515px;top:808px;width:70px;height:6px;background:#1d1c1f;border-radius:3px;"></div>
<div class="r" style="left:1515px;top:808px;width:11.13px;height:6px;background:#8f9ab0;border-radius:3px;"></div>
<div class="r" style="left:1332px;top:827px;width:253px;height:1px;background:#232125;"></div>
<div class="t" style="left:1332px;top:835.10px;font-size:15px;line-height:15px;color:#f2eee9;font-weight:400;-webkit-text-stroke:0.65px #f2eee9;">English</div>
<div class="t" style="left:1441px;top:835.53px;font-size:14.5px;line-height:14.5px;color:#aaa098;font-weight:400;letter-spacing:-0.2px;-webkit-text-stroke:0.5px #aaa098;">11.8 %</div>
<div class="r" style="left:1515px;top:840px;width:70px;height:6px;background:#1d1c1f;border-radius:3px;"></div>
<div class="r" style="left:1515px;top:840px;width:8.26px;height:6px;background:#8f9ab0;border-radius:3px;"></div>
<div class="r" style="left:1332px;top:859px;width:253px;height:1px;background:#232125;"></div>
<div class="t" style="left:1332px;top:866.80px;font-size:15px;line-height:15px;color:#f2eee9;font-weight:400;-webkit-text-stroke:0.65px #f2eee9;">Irish</div>
<div class="t" style="left:1441px;top:867.23px;font-size:14.5px;line-height:14.5px;color:#aaa098;font-weight:400;letter-spacing:-0.2px;-webkit-text-stroke:0.5px #aaa098;">8.5 %</div>
<div class="r" style="left:1515px;top:872px;width:70px;height:6px;background:#1d1c1f;border-radius:3px;"></div>
<div class="r" style="left:1515px;top:872px;width:5.95px;height:6px;background:#8f9ab0;border-radius:3px;"></div>
<div class="r" style="left:1332px;top:891px;width:253px;height:1px;background:#232125;"></div>
<div class="t" style="left:1332px;top:898.40px;font-size:15px;line-height:15px;color:#f2eee9;font-weight:400;-webkit-text-stroke:0.65px #f2eee9;">American</div>
<div class="t" style="left:1441px;top:898.83px;font-size:14.5px;line-height:14.5px;color:#aaa098;font-weight:400;letter-spacing:-0.2px;-webkit-text-stroke:0.5px #aaa098;">3.4 %</div>
<div class="r" style="left:1515px;top:903px;width:70px;height:6px;background:#1d1c1f;border-radius:3px;"></div>
<div class="r" style="left:1515px;top:903px;width:2.3800000000000003px;height:6px;background:#8f9ab0;border-radius:3px;"></div>
<div class="r" style="left:1332px;top:923px;width:253px;height:1px;background:#232125;"></div>
<div class="t" style="left:1600px;top:771.80px;font-size:15px;line-height:15px;color:#f2eee9;font-weight:400;-webkit-text-stroke:0.65px #f2eee9;">Non-</div>
<div class="t" style="left:1600px;top:790.50px;font-size:15px;line-height:15px;color:#f2eee9;font-weight:400;-webkit-text-stroke:0.65px #f2eee9;">adherent /</div>
<div class="t" style="left:1600px;top:808.80px;font-size:15px;line-height:15px;color:#f2eee9;font-weight:400;-webkit-text-stroke:0.65px #f2eee9;">Other</div>
<div class="t" style="left:1709px;top:790.73px;font-size:14.5px;line-height:14.5px;color:#aaa098;font-weight:400;letter-spacing:-0.2px;-webkit-text-stroke:0.5px #aaa098;">54.1 %</div>
<div class="r" style="left:1783px;top:795px;width:70px;height:6px;background:#1d1c1f;border-radius:3px;"></div>
<div class="r" style="left:1783px;top:795px;width:37.870000000000005px;height:6px;background:#6e717e;border-radius:3px;"></div>
<div class="r" style="left:1600px;top:834px;width:253px;height:1px;background:#232125;"></div>
<div class="t" style="left:1600px;top:841.20px;font-size:15px;line-height:15px;color:#f2eee9;font-weight:400;-webkit-text-stroke:0.65px #f2eee9;">Catholic</div>
<div class="t" style="left:1709px;top:841.63px;font-size:14.5px;line-height:14.5px;color:#aaa098;font-weight:400;letter-spacing:-0.2px;-webkit-text-stroke:0.5px #aaa098;">22.7 %</div>
<div class="r" style="left:1783px;top:846px;width:70px;height:6px;background:#1d1c1f;border-radius:3px;"></div>
<div class="r" style="left:1783px;top:846px;width:15.89px;height:6px;background:#e2b232;border-radius:3px;"></div>
<div class="r" style="left:1600px;top:866px;width:253px;height:1px;background:#232125;"></div>
<div class="t" style="left:1600px;top:873.20px;font-size:15px;line-height:15px;color:#f2eee9;font-weight:400;-webkit-text-stroke:0.65px #f2eee9;">Evangelical</div>
<div class="t" style="left:1600px;top:891.50px;font-size:15px;line-height:15px;color:#f2eee9;font-weight:400;-webkit-text-stroke:0.65px #f2eee9;">Protestant</div>
<div class="t" style="left:1709px;top:882.73px;font-size:14.5px;line-height:14.5px;color:#aaa098;font-weight:400;letter-spacing:-0.2px;-webkit-text-stroke:0.5px #aaa098;">15.6 %</div>
<div class="r" style="left:1783px;top:888px;width:70px;height:6px;background:#1d1c1f;border-radius:3px;"></div>
<div class="r" style="left:1783px;top:888px;width:10.92px;height:6px;background:#e06464;border-radius:3px;"></div>
<div class="r" style="left:1600px;top:916px;width:253px;height:1px;background:#232125;"></div>
<div class="t" style="left:1600px;top:923.20px;font-size:15px;line-height:15px;color:#f2eee9;font-weight:400;-webkit-text-stroke:0.65px #f2eee9;">Other</div>
<div class="t" style="left:1600px;top:941.50px;font-size:15px;line-height:15px;color:#f2eee9;font-weight:400;-webkit-text-stroke:0.65px #f2eee9;">tradition</div>
<div class="t" style="left:1709px;top:932.73px;font-size:14.5px;line-height:14.5px;color:#aaa098;font-weight:400;letter-spacing:-0.2px;-webkit-text-stroke:0.5px #aaa098;">5.1 %</div>
<div class="r" style="left:1783px;top:938px;width:70px;height:6px;background:#1d1c1f;border-radius:3px;"></div>
<div class="r" style="left:1783px;top:938px;width:3.57px;height:6px;background:#8d93a0;border-radius:3px;"></div>
<div class="r" style="left:1600px;top:966px;width:253px;height:1px;background:#232125;"></div>
<div class="t" style="left:1600px;top:973.20px;font-size:15px;line-height:15px;color:#f2eee9;font-weight:400;-webkit-text-stroke:0.65px #f2eee9;">LDS</div>
<div class="t" style="left:1709px;top:973.63px;font-size:14.5px;line-height:14.5px;color:#aaa098;font-weight:400;letter-spacing:-0.2px;-webkit-text-stroke:0.5px #aaa098;">3.4 %</div>
<div class="r" style="left:1783px;top:979px;width:70px;height:6px;background:#1d1c1f;border-radius:3px;"></div>
<div class="r" style="left:1783px;top:979px;width:2.3800000000000003px;height:6px;background:#33c4b6;border-radius:3px;"></div>
<div class="r" style="left:1600px;top:999px;width:253px;height:1px;background:#232125;"></div>
<div class="card" style="left:1044px;top:1028px;width:828px;height:120px;border-radius:12px;background:#09080a;"></div>
<div class="t" style="left:1063px;top:1042.06px;font-size:18px;line-height:18px;color:#f2eee9;font-weight:400;-webkit-text-stroke:0.65px #f2eee9;">Economics &amp; Language</div>
<div class="r" style="left:1063px;top:1070px;width:790px;height:1px;background:#232125;"></div>
<div class="r" style="left:1044px;top:995px;width:463px;height:1px;background:#0a3e4a;"></div>
<div class="t" style="left:1044px;top:1006.96px;font-size:12.8px;line-height:12.8px;color:#aaa098;font-weight:400;-webkit-text-stroke:0.5px #aaa098;">Sources: Akashic Edge elections database · PL 94-171 (2020) · ACS 5-yr B04006</div>
<div class="t" style="left:1044px;top:1026.65px;font-size:14px;line-height:14px;color:#aaa098;font-weight:400;-webkit-text-stroke:0.5px #aaa098;">akashicedge.com/counties/41047</div>
</body></html>
